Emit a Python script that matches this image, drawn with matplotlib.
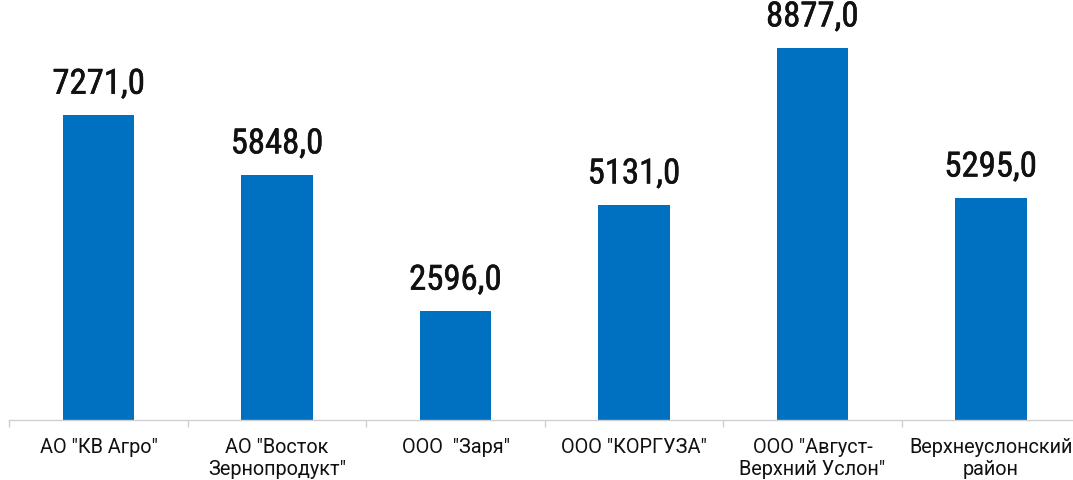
import numpy as np
import matplotlib.pyplot as plt
import matplotlib.patheffects as pe
from matplotlib.ticker import FixedLocator

categories = ['АО "КВ Агро"', 'АО "Восток\nЗернопродукт"', 'ООО  "Заря"',
              'ООО "КОРГУЗА"', 'ООО "Август-\nВерхний Услон"', 'Верхнеуслонский\nрайон']
values = [7271.0, 5848.0, 2596.0, 5131.0, 8877.0, 5295.0]
value_labels = ['7271,0', '5848,0', '2596,0', '5131,0', '8877,0', '5295,0']

plt.rcParams['font.family'] = ['Roboto Condensed', 'Liberation Sans Narrow', 'Roboto', 'DejaVu Sans']


def draw():
    fig = plt.figure(figsize=(10.73, 4.81), dpi=100)
    ax = fig.add_axes([0.00885, 0.1247, 0.9977, 0.8715])
    x = np.arange(len(categories))
    bars = ax.bar(x, values, width=0.4, color='#0070C0')
    for b, lab in zip(bars, value_labels):
        ax.annotate(lab, (b.get_x() + b.get_width() / 2, b.get_height()),
                    xytext=(0, 15.5), textcoords='offset points',
                    ha='center', va='baseline', fontsize=25, color='#111111',
                    path_effects=[pe.withStroke(linewidth=0.4, foreground='#111111')])
    ax.set_xlim(-0.5, len(categories) - 0.5)
    ax.set_ylim(0, 10000)
    ax.set_xticks(x)
    ax.set_xticklabels(categories, fontsize=14.3, color='#111111', linespacing=1.2,
                       family=['Roboto', 'DejaVu Sans'])
    ax.tick_params(axis='x', which='major', length=0, pad=12)
    ax.xaxis.set_minor_locator(FixedLocator(np.arange(-0.5, len(categories), 1.0)))
    ax.tick_params(axis='x', which='minor', length=5, color='#D0D0D0', width=1)
    ax.set_yticks([])
    for s in ['top', 'right', 'left']:
        ax.spines[s].set_visible(False)
    ax.spines['bottom'].set_color('#D0D0D0')
    ax.spines['bottom'].set_linewidth(1)
    fig.savefig('out.png', dpi=100)


if __name__ == "__main__":
    draw()
